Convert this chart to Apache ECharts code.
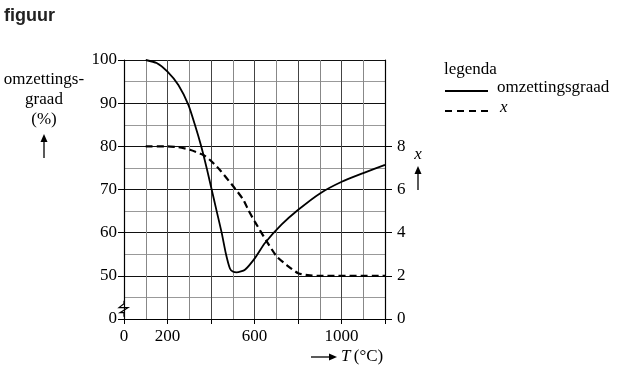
<!DOCTYPE html>
<html><head><meta charset="utf-8">
<script src="https://cdn.jsdelivr.net/npm/echarts@6/dist/echarts.min.js"></script>
<style>html,body{margin:0;padding:0;background:#fff}#c{width:624px;height:384px}</style>
</head><body><div id="c"></div>
<script>
// Temperature (°C) and omzettingsgraad (%)
const omzT =   [100,150,200,250,296,326,354,380,403,426,449,469,487,500,518,556,602,648,725,801,901,1001,1100,1200];
const omzVal = [100,99.3,97.3,94.2,89.6,85,80.2,75,70,65,60,55,51.7,51,50.8,51.4,54.1,57.6,61.9,65.3,69.1,71.8,73.8,75.7];
// x (right axis)
const xT =   [100,200,250,303,365,403,441,503,549,572,602,656,702,748,801,855,900,1200];
const xVal = [8,8,7.96,7.84,7.6,7.3,6.9,6.14,5.52,5.04,4.5,3.6,2.9,2.5,2.12,2.02,2,2];
const xTickLabels = [0,200,600,1000];
const rightTickLabels = [0,2,4,6,8];
const seriesNames = ['omzettingsgraad','x'];

const serif = 'Liberation Serif';
const chart = echarts.init(document.getElementById('c'));
chart.setOption({
  animation:false,
  backgroundColor:'#fff',
  grid:{left:124,right:239,top:60,bottom:65},
  xAxis:{type:'value',min:0,max:1200,interval:200,
    axisLine:{lineStyle:{color:'#000',width:1.2}},
    axisTick:{show:true,length:5,lineStyle:{color:'#000'}},
    axisLabel:{customValues:xTickLabels,color:'#000',fontFamily:serif,fontSize:17,margin:9,formatter:v=>String(v)},
    splitLine:{show:true,lineStyle:{color:'#444',width:1}},
    minorTick:{show:false,splitNumber:2},
    minorSplitLine:{show:true,lineStyle:{color:'#888',width:1}}
  },
  yAxis:[
    {type:'value',min:40,max:100,interval:10,
     axisLine:{show:true,lineStyle:{color:'#000',width:1.2}},
     axisTick:{show:true,length:6,lineStyle:{color:'#000'}},
     axisLabel:{color:'#000',fontFamily:serif,fontSize:17,margin:7,formatter:v=>v===40?'0':String(v)},
     splitLine:{show:true,lineStyle:{color:'#111',width:1}},
     minorTick:{show:false,splitNumber:2},
     minorSplitLine:{show:true,lineStyle:{color:'#999',width:1}}
    },
    {type:'value',min:0,max:12,interval:2,position:'right',
     axisLine:{show:true,lineStyle:{color:'#000',width:1.2}},
     axisTick:{show:true,length:7,customValues:rightTickLabels,lineStyle:{color:'#000'}},
     axisLabel:{customValues:rightTickLabels,color:'#000',fontFamily:serif,fontSize:17,margin:12},
     splitLine:{show:false}
    }
  ],
  series:[
    {name:seriesNames[0],type:'line',yAxisIndex:0,smooth:0.2,showSymbol:false,
     lineStyle:{color:'#000',width:1.8},itemStyle:{color:'#000'},
     data:omzT.map((t,i)=>[t,omzVal[i]])},
    {name:seriesNames[1],type:'line',yAxisIndex:1,smooth:0.2,showSymbol:false,
     lineStyle:{color:'#000',width:2.2,type:[7,4]},itemStyle:{color:'#000'},
     data:xT.map((t,i)=>[t,xVal[i]])}
  ]
});

const ax = chart.convertToPixel({xAxisIndex:0},0);
const yb = chart.convertToPixel({yAxisIndex:0},42.4);
chart.setOption({graphic:[
  {type:'text',left:4,top:7,style:{text:'figuur',font:'bold 18px "Liberation Sans"',fill:'#222'}},
  {type:'text',left:444,top:61,style:{text:'legenda',font:'17px "Liberation Serif"',fill:'#000'}},
  {type:'line',shape:{x1:445,y1:91,x2:488,y2:91},style:{stroke:'#000',lineWidth:1.8}},
  {type:'text',left:497,top:79,style:{text:seriesNames[0],font:'17px "Liberation Serif"',fill:'#000'}},
  {type:'line',shape:{x1:445,y1:111,x2:490,y2:111},style:{stroke:'#000',lineWidth:2,lineDash:[7,5]}},
  {type:'text',left:500,top:99,style:{text:seriesNames[1],font:'italic 17px "Liberation Serif"',fill:'#000'}},
  {type:'text',x:44,y:70,style:{text:'omzettings-\ngraad\n(%)',font:'17px "Liberation Serif"',fill:'#000',align:'center',lineHeight:20}},
  {type:'line',shape:{x1:44,y1:158,x2:44,y2:139},style:{stroke:'#000',lineWidth:1.3}},
  {type:'polygon',shape:{points:[[44,134],[40.5,142],[47.5,142]]},style:{fill:'#000'}},
  {type:'text',x:418,y:146,style:{text:'x',font:'italic 17px "Liberation Serif"',fill:'#000',align:'center'}},
  {type:'line',shape:{x1:418,y1:190,x2:418,y2:171},style:{stroke:'#000',lineWidth:1.3}},
  {type:'polygon',shape:{points:[[418,166],[414.5,174],[421.5,174]]},style:{fill:'#000'}},
  {type:'line',shape:{x1:311,y1:357,x2:332,y2:357},style:{stroke:'#000',lineWidth:1.3}},
  {type:'polygon',shape:{points:[[337,357],[329,353.5],[329,360.5]]},style:{fill:'#000'}},
  {type:'text',x:341,y:348,style:{rich:{i:{fontFamily:serif,fontStyle:'italic',fontSize:17},n:{fontFamily:serif,fontSize:17}},text:'{i|T} {n|(°C)}',fill:'#000'}},
  {type:'rect',shape:{x:ax-1,y:yb-7,width:2,height:14},style:{fill:'#fff'}},
  {type:'polyline',shape:{points:[[ax,yb-8],[ax,yb-5],[ax-5,yb-1],[ax+4,yb-1],[ax-4,yb+4],[ax,yb+4],[ax,yb+8]]},style:{stroke:'#000',lineWidth:1.2,fill:null}}
]});
</script></body></html>
